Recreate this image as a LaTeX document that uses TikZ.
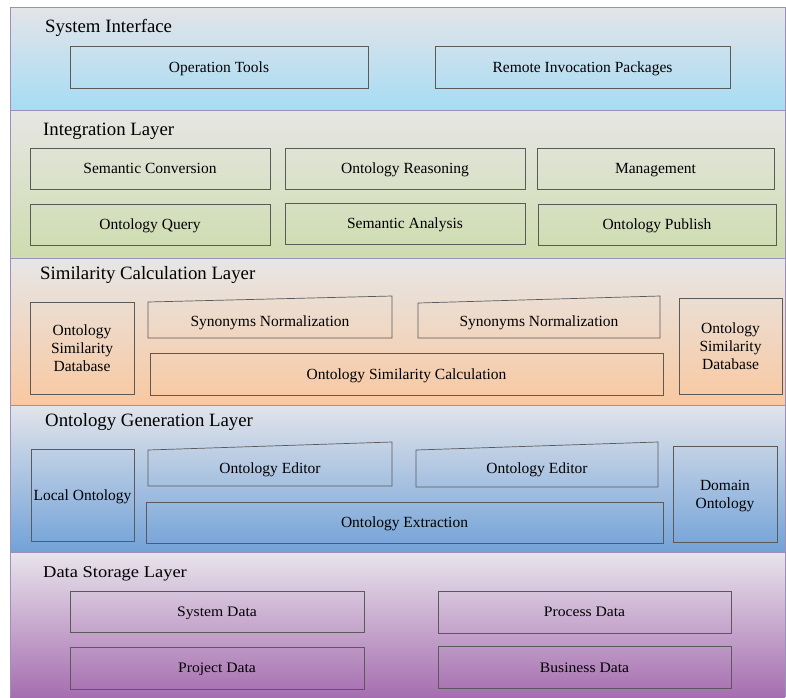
\documentclass[tikz,border=0pt]{standalone}
\usepackage{fontspec}
\setmainfont{Liberation Serif}
\newfontfamily\tnr{Liberation Serif}
\definecolor{layerline}{HTML}{9C90B8}
\definecolor{boxline}{HTML}{5A5A5A}
\definecolor{siTop}{HTML}{E4E4E8}
\definecolor{siBot}{HTML}{A6DCF4}
\definecolor{ilTop}{HTML}{E6E6E4}
\definecolor{ilBot}{HTML}{CEDCAE}
\definecolor{scTop}{HTML}{E6E6E6}
\definecolor{scBot}{HTML}{F9C8A0}
\definecolor{ogTop}{HTML}{E2E4EA}
\definecolor{ogBot}{HTML}{72A2D8}
\definecolor{dsTop}{HTML}{E8E4EC}
\definecolor{dsBot}{HTML}{A66EB0}
\begin{document}
\begin{tikzpicture}[x=1pt,y=-1pt,
  layer/.style={draw=layerline, line width=0.7pt},
  title/.style={anchor=base west, inner sep=0pt, font=\tnr\fontsize{18.8}{21}\selectfont},
  box/.style={draw=boxline, line width=0.7pt, inner sep=0pt, align=center,
    text height=10.2pt, text depth=0pt, font=\tnr\fontsize{15.5}{18}\selectfont},
  box3/.style={box, text height=46.2pt},
  box2/.style={box, text height=28.2pt},
  slant/.style={draw=boxline, line width=0.7pt},
  label/.style={inner sep=0pt, text height=10.2pt, text depth=0pt,
    font=\tnr\fontsize{15.5}{18}\selectfont},
  dsbox/.style={box, text height=9.6pt, font=\tnr\fontsize{14.5}{18}\selectfont}]
\useasboundingbox (0,0) rectangle (786,697);

% layer bands
\shade[top color=siTop, bottom color=siBot] (10,7) rectangle (785,110);
\shade[top color=ilTop, bottom color=ilBot] (10,110) rectangle (785,258);
\shade[top color=scTop, bottom color=scBot] (10,258) rectangle (785,405);
\shade[top color=ogTop, bottom color=ogBot] (10,405) rectangle (785,552);
\shade[top color=dsTop, bottom color=dsBot] (10,552) rectangle (785,697);
\draw[layer] (10,697) -- (10,7) -- (785,7) -- (785,697);
\draw[layer] (10,110) -- (785,110);
\draw[layer] (10,258) -- (785,258);
\draw[layer] (10,405) -- (785,405);
\draw[layer] (10,552) -- (785,552);

% System Interface
\node[title] (tsi) at (45,32.5) {System Interface};
\node[box, minimum width=298pt, minimum height=42pt] (optools) at (219,67.5) {Operation Tools};
\node[box, minimum width=295pt, minimum height=42pt] (remote) at (582.5,67.5) {Remote Invocation Packages};

% Integration Layer
\node[title] (til) at (43,135) {Integration Layer};
\node[box, minimum width=240pt, minimum height=41pt] (semconv) at (150,168.5) {Semantic Conversion};
\node[box, minimum width=240pt, minimum height=41pt] (ontreas) at (405,168.5) {Ontology Reasoning};
\node[box, minimum width=237pt, minimum height=41pt] (manage) at (655.5,168.5) {Management};
\node[box, minimum width=240pt, minimum height=41pt] (ontquery) at (150,224.5) {Ontology Query};
\node[box, minimum width=240pt, minimum height=41pt] (semana) at (405,223.5) {Semantic Analysis};
\node[box, minimum width=238pt, minimum height=41pt] (ontpub) at (657,224.5) {Ontology Publish};

% Similarity Calculation Layer
\node[title] (tsc) at (40,279.5) {Similarity Calculation Layer};
\node[box3, minimum width=104pt, minimum height=92pt] (osdl) at (82,348.5) {Ontology\\Similarity\\Database};
\draw[slant] (148,302) -- (392,296) -- (392,338) -- (148,338) -- cycle;
\node[label] (synl) at (270,321) {Synonyms Normalization};
\draw[slant] (418,303) -- (660,296) -- (660,338) -- (418,338) -- cycle;
\node[label] (synr) at (539,321) {Synonyms Normalization};
\node[box, minimum width=513pt, minimum height=42pt] (osc) at (406.5,374) {Ontology Similarity Calculation};
\node[box3, minimum width=103pt, minimum height=96pt] (osdr) at (730.5,346) {Ontology\\Similarity\\Database};

% Ontology Generation Layer
\node[title] (tog) at (45,426) {Ontology Generation Layer};
\node[box, minimum width=103pt, minimum height=92pt] (local) at (82.5,495.5) {Local Ontology};
\draw[slant] (148,450) -- (392,442) -- (392,486) -- (148,486) -- cycle;
\node[label] (edl) at (270,468.5) {Ontology Editor};
\draw[slant] (416,450) -- (658,442) -- (658,487) -- (416,487) -- cycle;
\node[label] (edr) at (537,468.5) {Ontology Editor};
\node[box, minimum width=517pt, minimum height=41pt] (extract) at (404.5,522.5) {Ontology Extraction};
\node[box2, minimum width=104pt, minimum height=96pt] (domain) at (725,494) {Domain\\Ontology};

% Data Storage Layer (lettering set slightly wide)
\node[title, font=\tnr\fontsize{16.5}{20}\selectfont] (tds) at (43,577.5) {\scalebox{1.12}[1]{Data Storage Layer}};
\node[dsbox, minimum width=294pt, minimum height=41pt] (sysdata) at (217,611.5) {\scalebox{1.08}[1]{System Data}};
\node[dsbox, minimum width=293pt, minimum height=42pt] (procdata) at (584.5,612) {\scalebox{1.08}[1]{Process Data}};
\node[dsbox, minimum width=294pt, minimum height=42pt] (projdata) at (217,668) {\scalebox{1.08}[1]{Project Data}};
\node[dsbox, minimum width=293pt, minimum height=42pt] (busdata) at (584.5,667.5) {\scalebox{1.08}[1]{Business Data}};
\end{tikzpicture}
\end{document}
